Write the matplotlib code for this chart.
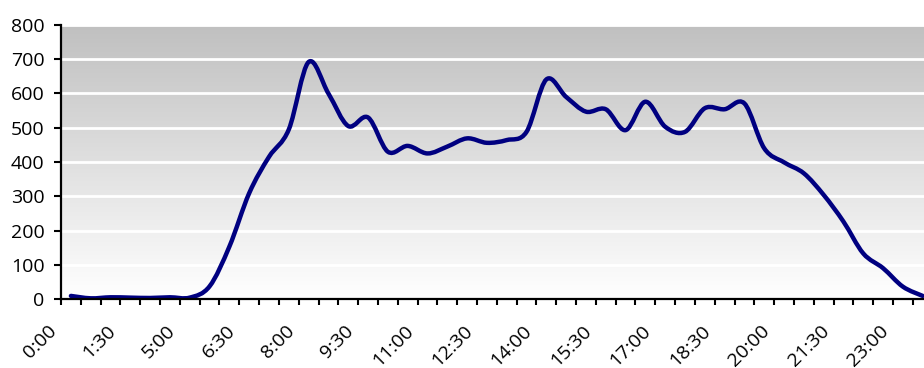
import numpy as np
import matplotlib
matplotlib.use('Agg')
import matplotlib.pyplot as plt
from matplotlib.path import Path
from matplotlib.patches import PathPatch
from matplotlib.colors import LinearSegmentedColormap
import matplotlib.transforms as mtrans

# ---- data ----
times = ['0:00', '0:30', '1:00', '1:30', '3:00', '4:00',
         '5:00', '5:30', '6:00', '6:30', '7:00', '7:30', '8:00', '8:30',
         '9:00', '9:30', '10:00', '10:30', '11:00', '11:30', '12:00', '12:30',
         '13:00', '13:30', '14:00', '14:30', '15:00', '15:30', '16:00', '16:30',
         '17:00', '17:30', '18:00', '18:30', '19:00', '19:30', '20:00', '20:30',
         '21:00', '21:30', '22:00', '22:30', '23:00', '23:30']
values = [9, 2, 5, 4, 3, 5,
          4, 37, 153, 309, 415, 495, 692, 600,
          505, 530, 430, 447, 425, 445, 469, 456,
          464, 488, 641, 590, 547, 554, 493, 576,
          503, 488, 557, 554, 571, 440, 399, 367,
          304, 226, 133, 90, 36, 9]
y_ticks = [0, 100, 200, 300, 400, 500, 600, 700, 800]
label_every = 3

plt.rcParams['font.family'] = ['Open Sans', 'DejaVu Sans']

W, H = 924, 368
fig = plt.figure(figsize=(W / 100, H / 100), dpi=100)
ax = fig.add_axes([61 / W, 69 / H, 871.6 / W, 274 / H])

n = len(values)
ax.set_xlim(0, n)
ax.set_ylim(0, 800)

# gradient background
cmap = LinearSegmentedColormap.from_list('g', ['#FFFFFF', '#C0C0C0'])
grad = np.linspace(0, 1, 256).reshape(-1, 1)
ax.imshow(grad, cmap=cmap, origin='lower', aspect='auto',
          extent=[0, n, 0, 800], zorder=0.1, interpolation='bicubic')

ax.set_axisbelow(True)
ax.yaxis.grid(True, color='white', lw=2)

# smoothed line (Excel-like Bezier through points)
xs = np.arange(n) + 0.5
ys = np.array(values, dtype=float)
verts = [(xs[0], ys[0])]
codes = [Path.MOVETO]
for i in range(n - 1):
    p0 = np.array([xs[max(i - 1, 0)], ys[max(i - 1, 0)]])
    p1 = np.array([xs[i], ys[i]])
    p2 = np.array([xs[i + 1], ys[i + 1]])
    p3 = np.array([xs[min(i + 2, n - 1)], ys[min(i + 2, n - 1)]])
    c1 = p1 + (p2 - p0) / 6.0
    c2 = p2 - (p3 - p1) / 6.0
    verts += [tuple(c1), tuple(c2), tuple(p2)]
    codes += [Path.CURVE4] * 3
ax.add_patch(PathPatch(Path(verts, codes), fill=False, edgecolor='#000080',
                       lw=3.2, capstyle='round', joinstyle='round', zorder=3))

# spines
for s in ['top', 'right']:
    ax.spines[s].set_visible(False)
for s in ['left', 'bottom']:
    ax.spines[s].set_color('black')
    ax.spines[s].set_linewidth(1.6)
    ax.spines[s].set_zorder(4)

ax.set_yticks(y_ticks)
ax.set_yticklabels([str(v) for v in y_ticks])
ax.tick_params(axis='y', direction='out', length=5, width=1.5, pad=7,
               labelsize=14, colors='black')
ax.set_xticks(np.arange(n + 1))
ax.set_xticklabels([])
ax.tick_params(axis='x', direction='out', length=4.5, width=1.5, colors='black')

# rotated category labels
off = mtrans.ScaledTranslation(-17 / 100, -29 / 100, fig.dpi_scale_trans)
tr = ax.get_xaxis_transform() + off
for i, t in enumerate(times):
    if i % label_every == 0:
        ax.text(i + 0.5, 0, t, transform=tr, rotation=45, rotation_mode='anchor',
                ha='right', va='center', fontsize=14, color='black', clip_on=False)

fig.savefig('out.png', dpi=100)
